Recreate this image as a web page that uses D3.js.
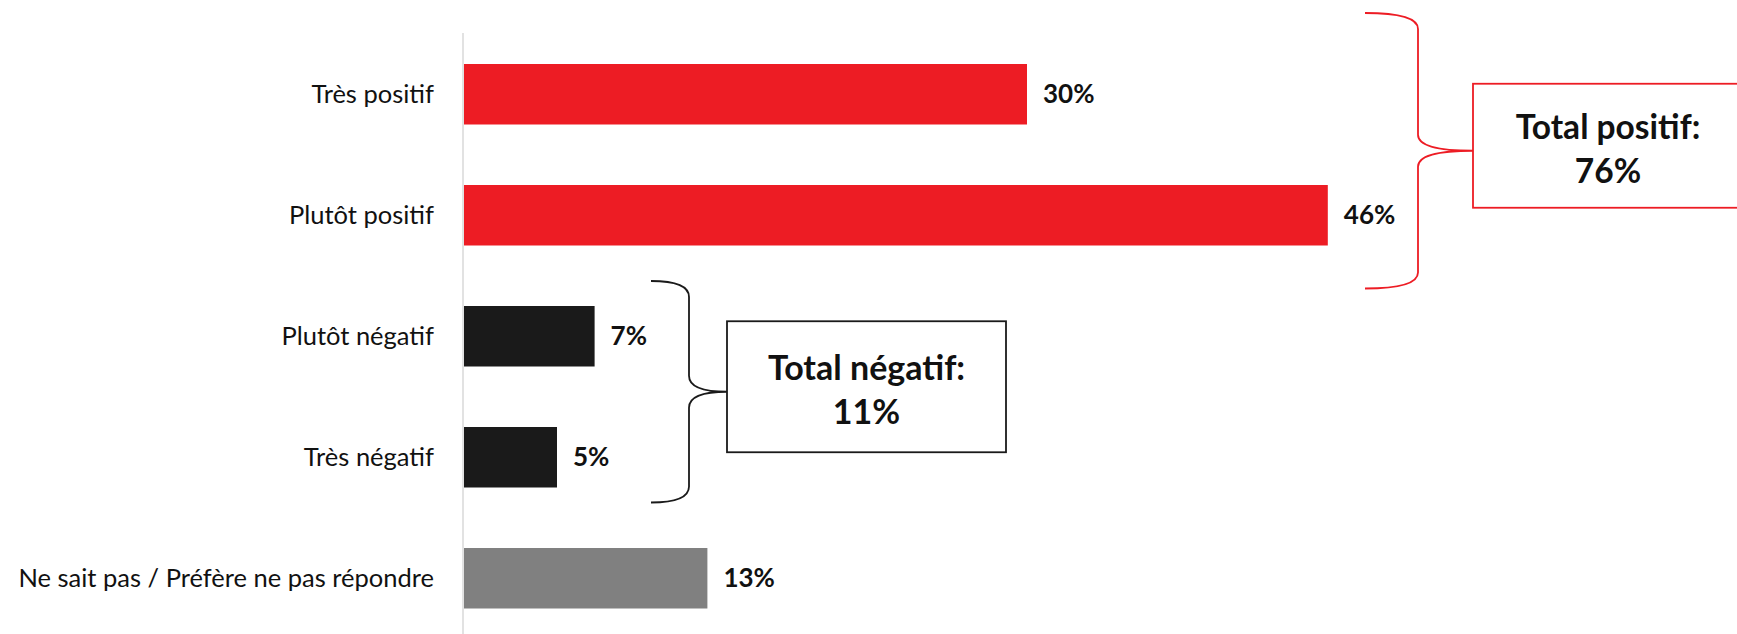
<!DOCTYPE html>
<html lang="fr">
<head>
  <meta charset="UTF-8">
  <title>Opinion</title>
  <script src="https://cdnjs.cloudflare.com/ajax/libs/d3/7.8.5/d3.min.js"></script>
  <style>
    html, body { margin: 0; padding: 0; background: #fff; }
    svg { display: block; font-family: Lato, 'Noto Sans', sans-serif; }
  </style>
</head>
<body>
  <svg id="chart"></svg>
  <script>
    // data
    var categories = ['Très positif', 'Plutôt positif', 'Plutôt négatif', 'Très négatif', 'Ne sait pas / Préfère ne pas répondre']
    var values = [30, 46, 7, 5, 13]
    var groups = ['pos', 'pos', 'neg', 'neg', 'nsp']
    var totalLabels = ['Total positif:', 'Total négatif:']
    var totalValues = [76, 11]

    // layout
    var width = 1737, height = 634
    var colors = { pos: '#ED1C24', neg: '#1A1A1A', nsp: '#808080' }

    var svg = d3.select('#chart').attr('width', width).attr('height', height)

    var x = d3.scaleLinear().domain([0, 10]).range([463, 651])
    var y = d3.scaleBand().domain(categories).range([3.5, 669]).paddingInner(0.5).paddingOuter(0.5)

    // axis line
    svg.append('line')
      .attr('x1', x(0)).attr('x2', x(0))
      .attr('y1', 33).attr('y2', height)
      .attr('stroke', '#d9d9d9').attr('stroke-width', 1.5)

    // category labels
    svg.append('g')
      .selectAll('text')
      .data(categories)
      .join('text')
      .attr('x', x(0) - 29)
      .attr('y', function (d) { return y(d) + y.bandwidth() / 2 })
      .attr('dy', '0.35em')
      .attr('text-anchor', 'end')
      .attr('font-size', 25.5)
      .attr('fill', '#111')
      .text(function (d) { return d })

    // bars
    svg.append('g')
      .selectAll('rect')
      .data(values)
      .join('rect')
      .attr('x', x(0) + 1)
      .attr('y', function (d, i) { return y(categories[i]) })
      .attr('width', function (d) { return x(d) - x(0) - 1 })
      .attr('height', y.bandwidth())
      .attr('fill', function (d, i) { return colors[groups[i]] })

    // value labels
    svg.append('g')
      .selectAll('text')
      .data(values)
      .join('text')
      .attr('x', function (d) { return x(d) + 16 })
      .attr('y', function (d, i) { return y(categories[i]) + y.bandwidth() / 2 })
      .attr('dy', '0.35em')
      .attr('font-size', 26)
      .attr('font-weight', 'bold')
      .attr('fill', '#111')
      .text(function (d) { return d + '%' })

    // curly brace from (x0,top) to (x0,bottom), vertical at xv, tip at xt
    function brace(x0, xv, xt, top, bottom) {
      var mid = (top + bottom) / 2
      var r = 16
      return 'M' + x0 + ',' + top +
        'Q' + xv + ',' + top + ' ' + xv + ',' + (top + r) +
        'L' + xv + ',' + (mid - r) +
        'Q' + xv + ',' + mid + ' ' + xt + ',' + mid +
        'Q' + xv + ',' + mid + ' ' + xv + ',' + (mid + r) +
        'L' + xv + ',' + (bottom - r) +
        'Q' + xv + ',' + bottom + ' ' + x0 + ',' + bottom
    }

    function total(k, i0, i1, color, xLeft, dv, dt, padTop, padBottom, boxW, boxH, fs) {
      var top = y(categories[i0]) - padTop
      var bottom = y(categories[i1]) + y.bandwidth() + padBottom
      var mid = (top + bottom) / 2
      var xv = xLeft + dv, xt = xv + dt
      var g = svg.append('g')
      g.append('path')
        .attr('d', brace(xLeft, xv, xt, top, bottom))
        .attr('fill', 'none').attr('stroke', color).attr('stroke-width', 1.8)
      var cy = mid - 5
      g.append('rect')
        .attr('x', xt).attr('y', cy - boxH / 2)
        .attr('width', boxW).attr('height', boxH)
        .attr('fill', '#fff').attr('stroke', color).attr('stroke-width', 1.8)
      g.append('text')
        .attr('x', xt + boxW / 2).attr('y', cy - 7)
        .attr('text-anchor', 'middle')
        .attr('font-size', fs).attr('font-weight', 'bold').attr('fill', '#111')
        .text(totalLabels[k])
      g.append('text')
        .attr('x', xt + boxW / 2).attr('y', cy + 37)
        .attr('text-anchor', 'middle')
        .attr('font-size', fs).attr('font-weight', 'bold').attr('fill', '#111')
        .text(totalValues[k] + '%')
    }

    total(0, 0, 1, '#ED1C24', 1365, 53, 55, 51, 43, 270, 124, 33.5)
    total(1, 2, 3, '#1A1A1A', 651, 38, 38, 25, 15, 279, 131, 34)
  </script>
</body>
</html>
